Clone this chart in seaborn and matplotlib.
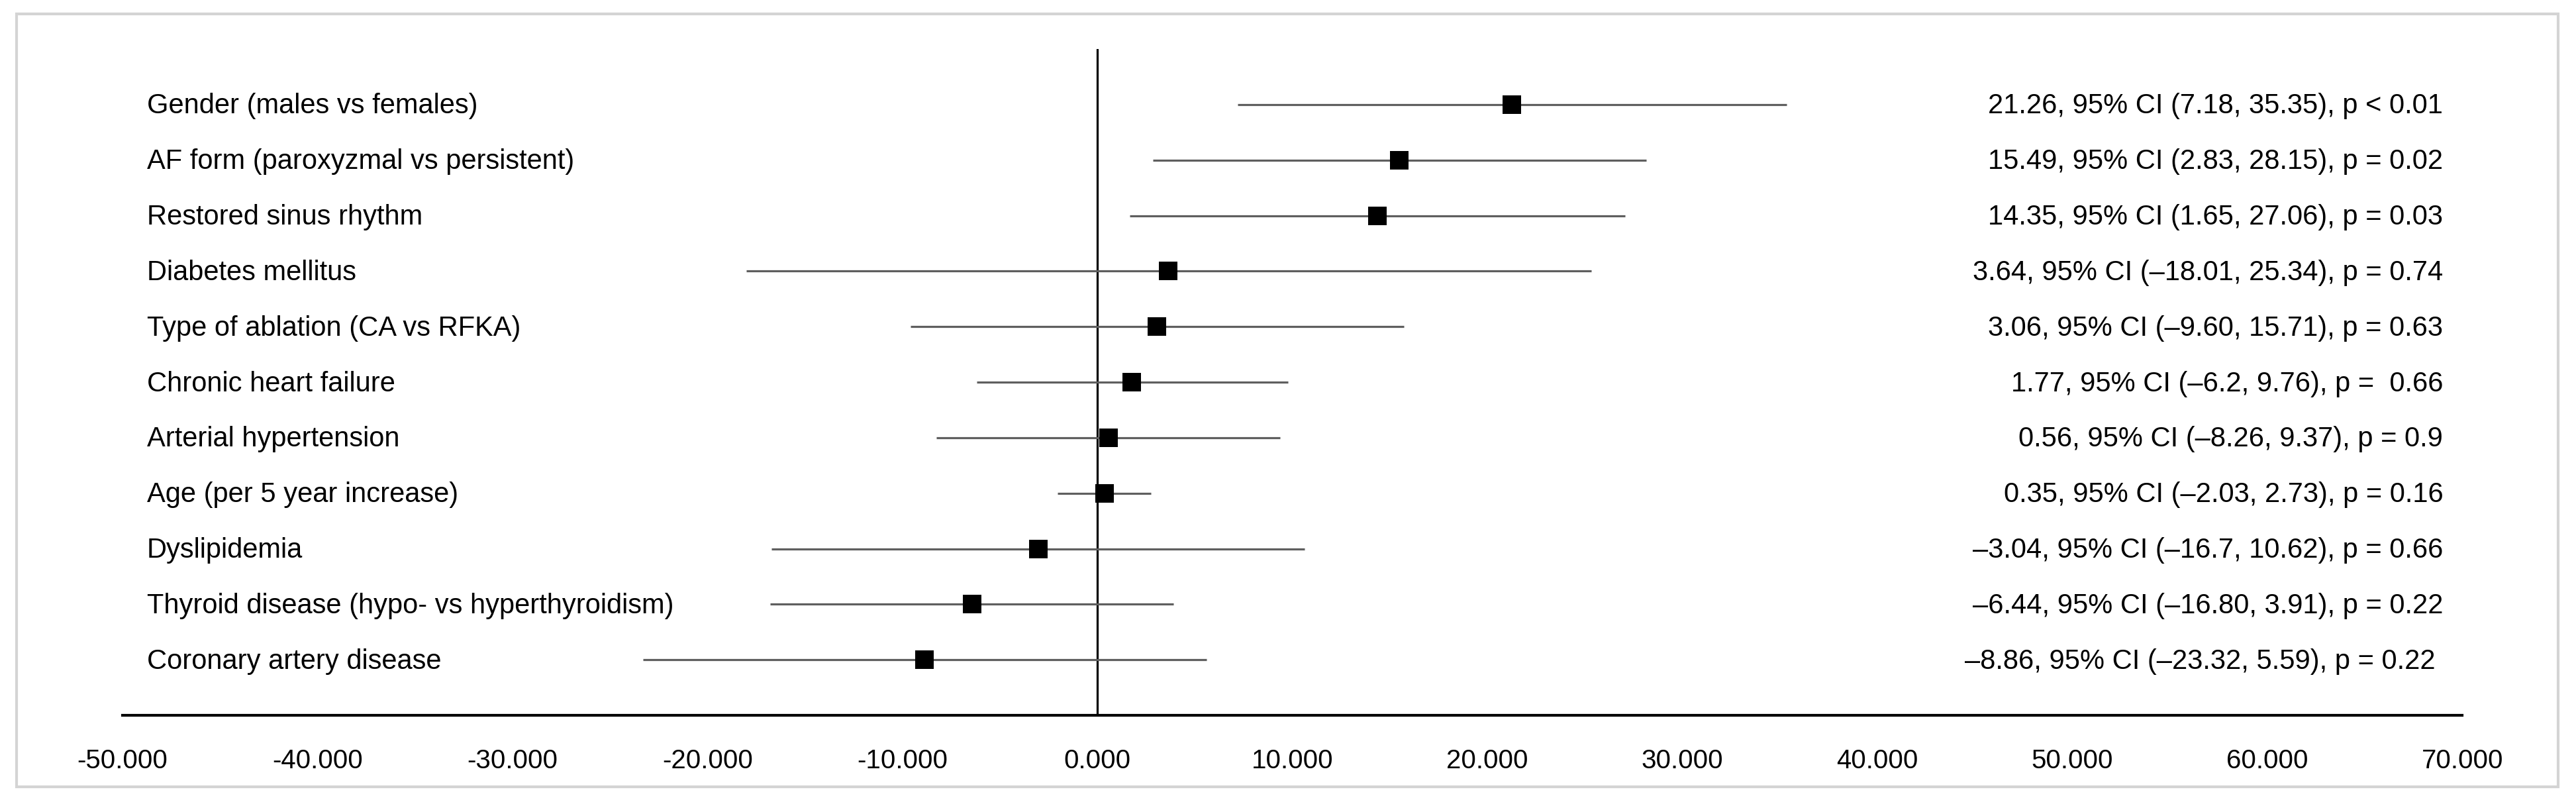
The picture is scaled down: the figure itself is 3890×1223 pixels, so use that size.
import numpy as np
import pandas as pd
import matplotlib
matplotlib.use('Agg')
import matplotlib.pyplot as plt
import matplotlib.transforms as mtransforms
from matplotlib.patches import Rectangle
import seaborn as sns

# factors, top to bottom
factors = ['Gender (males vs females)', 'AF form (paroxyzmal vs persistent)', 'Restored sinus rhythm',
           'Diabetes mellitus', 'Type of ablation (CA vs RFKA)', 'Chronic heart failure',
           'Arterial hypertension', 'Age (per 5 year increase)', 'Dyslipidemia',
           'Thyroid disease (hypo- vs hyperthyroidism)', 'Coronary artery disease']
estimate = [21.26, 15.49, 14.35, 3.64, 3.06, 1.77, 0.56, 0.35, -3.04, -6.44, -8.86]
ci_low = [7.18, 2.83, 1.65, -18.01, -9.60, -6.2, -8.26, -2.03, -16.7, -16.80, -23.32]
ci_high = [35.35, 28.15, 27.06, 25.34, 15.71, 9.76, 9.37, 2.73, 10.62, 3.91, 5.59]
ci_text = ['21.26, 95% CI (7.18, 35.35), p < 0.01',
           '15.49, 95% CI (2.83, 28.15), p = 0.02',
           '14.35, 95% CI (1.65, 27.06), p = 0.03',
           '3.64, 95% CI (\u201318.01, 25.34), p = 0.74',
           '3.06, 95% CI (\u20139.60, 15.71), p = 0.63',
           '1.77, 95% CI (\u20136.2, 9.76), p =  0.66',
           '0.56, 95% CI (\u20138.26, 9.37), p = 0.9',
           '0.35, 95% CI (\u20132.03, 2.73), p = 0.16',
           '\u20133.04, 95% CI (\u201316.7, 10.62), p = 0.66',
           '\u20136.44, 95% CI (\u201316.80, 3.91), p = 0.22',
           '\u20138.86, 95% CI (\u201323.32, 5.59), p = 0.22 ']
x_ticks = [-50, -40, -30, -20, -10, 0, 10, 20, 30, 40, 50, 60, 70]

df = pd.DataFrame({'factor': factors, 'est': estimate, 'lo': ci_low, 'hi': ci_high, 'txt': ci_text})
df['row'] = np.arange(len(df), 0, -1)

sns.set_theme(style='white')
plt.rcParams['font.family'] = ['Liberation Sans', 'DejaVu Sans']

fig = plt.figure(figsize=(38.9, 12.23), dpi=100)
ax = fig.add_axes([0.04756, 0.1169, 0.9083, 0.8226])

# CI whiskers
ax.hlines(df['row'], df['lo'], df['hi'], color='#5f5f5f', lw=2.3, zorder=2)
ax.axvline(0, color='black', lw=2.3, zorder=1)
sns.scatterplot(data=df, x='est', y='row', marker='s', s=420, color='black',
                edgecolor='black', linewidth=0, ax=ax, zorder=3)

ax.set_xlim(-50, 70)
ax.set_ylim(0, len(df) + 1)
ax.set_xticks(x_ticks)
ax.xaxis.set_major_formatter(matplotlib.ticker.FuncFormatter(lambda x, p: f'{x:.3f}'))
ax.tick_params(axis='x', length=0, pad=36, labelsize=29, colors='black')
ax.set_yticks([])
ax.set_xlabel('')
ax.set_ylabel('')
for s in ['top', 'left', 'right']:
    ax.spines[s].set_visible(False)
ax.spines['bottom'].set_color('black')
ax.spines['bottom'].set_linewidth(3.0)

trans = mtransforms.blended_transform_factory(ax.transAxes, ax.transData)
for _, r in df.iterrows():
    ax.text(0.0105, r['row'] - 0.03, r['factor'], transform=trans, ha='left', va='center',
            fontsize=30, color='black')
    ax.text(0.9918, r['row'] - 0.03, r['txt'], transform=trans, ha='right', va='center',
            fontsize=30, color='black')

# light frame around the whole chart
fig.patches.append(Rectangle((0.00643, 0.0286), 0.9866, 0.9542, transform=fig.transFigure,
                             fill=False, edgecolor='#d4d4d4', linewidth=3, zorder=0))

fig.savefig('out.png', dpi=100, facecolor='white')
